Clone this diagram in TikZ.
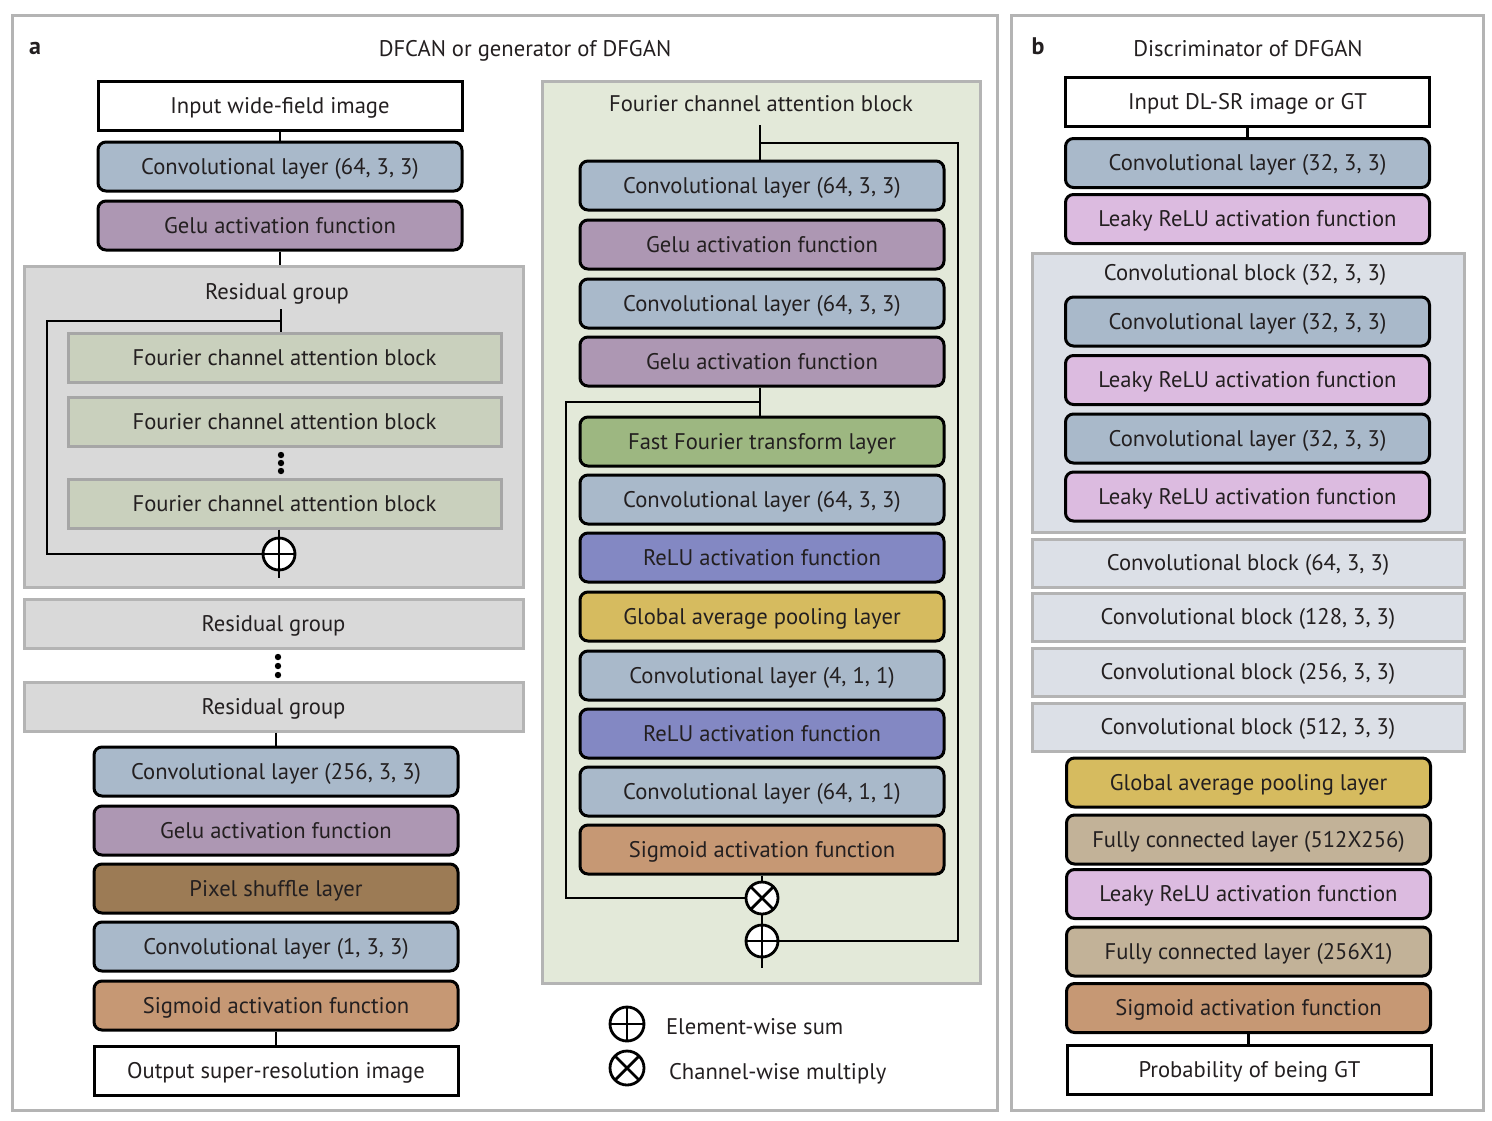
\documentclass[tikz,border=0pt]{standalone}
\usepackage{fontspec}
\setmainfont{PT Sans}
\usetikzlibrary{positioning}

\definecolor{txt}{HTML}{231F20}
\definecolor{frame}{HTML}{B4B4B4}
\definecolor{convc}{HTML}{A9B9CA}
\definecolor{geluc}{HTML}{AD97B3}
\definecolor{fcac}{HTML}{C9D0BD}
\definecolor{resc}{HTML}{D9D9D9}
\definecolor{shufc}{HTML}{9C7B55}
\definecolor{sigc}{HTML}{C69874}
\definecolor{fftc}{HTML}{9DB781}
\definecolor{reluc}{HTML}{8388C3}
\definecolor{gapc}{HTML}{D6BB5F}
\definecolor{fcabg}{HTML}{E3E9D9}
\definecolor{leakyc}{HTML}{DCBBE0}
\definecolor{blockc}{HTML}{DCE0E7}
\definecolor{fcc}{HTML}{C2B298}

\begin{document}
\begin{tikzpicture}[x=0.5pt,y=-0.5pt,font=\fontsize{11.3}{13}\selectfont,text=txt,
    every node/.style={text height=8.5pt,text depth=1pt},
    layer/.style={draw=black,line width=1.5pt,rounded corners=4pt,
        minimum width=182pt,minimum height=24.5pt,inner sep=0pt},
    io/.style={layer,rounded corners=0pt,fill=white},
    grp/.style={draw=frame,line width=1.5pt,inner sep=0pt},
    wire/.style={line width=1.4pt},
    sumop/.style={circle,draw,fill=white,line width=1.4pt,minimum size=16pt,inner sep=0pt,
        text height=,text depth=,
        path picture={\draw[line width=1.4pt] (path picture bounding box.north) -- (path picture bounding box.south)
            (path picture bounding box.west) -- (path picture bounding box.east);}},
    mulop/.style={circle,draw,fill=white,line width=1.4pt,minimum size=16pt,inner sep=0pt,
        text height=,text depth=,
        path picture={\draw[line width=1.4pt] (path picture bounding box.north west) -- (path picture bounding box.south east)
            (path picture bounding box.south west) -- (path picture bounding box.north east);}}]

    \useasboundingbox (0,0) rectangle (1492,1120);

    % The panels
    \draw[frame,line width=1.5pt] (12,15) rectangle (997,1110);
    \draw[frame,line width=1.5pt] (1011,15) rectangle (1483,1110);
    \node[font=\fontsize{12}{13}\bfseries] (taga) at (35,47) {a};
    \node (titlea) at (525,49) {DFCAN or generator of DFGAN};
    \node[font=\fontsize{12}{13}\bfseries] (tagb) at (1038,47) {b};
    \node (titleb) at (1248,49) {Discriminator of DFGAN};

    % Generator, top
    \node[io] (inwf) at (280,105.5) {Input wide-field image};
    \node[layer,fill=convc] (gconv1) at (280,166.5) {Convolutional layer (64, 3, 3)};
    \node[layer,fill=geluc] (ggelu1) at (280,225.5) {Gelu activation function};
    \draw[wire] (inwf.south) -- (gconv1.north);

    % Residual group with its skip
    \node[grp,fill=resc,minimum width=249.5pt,minimum height=160.5pt] (rg1) at (273.5,426.5) {};
    \node (rg1lab) at (277,292) {Residual group};
    \draw[wire] (ggelu1.south) -- (ggelu1.south |- rg1.north);
    \foreach \i/\y in {1/357.5,2/421.5,3/503.5}
        \node[grp,draw=black!35,fill=fcac,minimum width=216.5pt,minimum height=24.5pt] (fca\i) at (284.5,\y) {Fourier channel attention block};
    \foreach \y in {455,463,471}
        \fill (281,\y) circle[radius=1.6pt];
    \coordinate (rgin) at (281,309);
    \coordinate (rgskip) at (281,321);
    \node[sumop] (plus1) at (279,554) {};
    \coordinate (rgout) at (279,578);
    \draw[wire] (rgin) -- (fca1.north -| rgin);
    \draw[wire] (rgskip) -- (47,321) -- (47,554) -- (plus1.west);
    \draw[wire] (fca3.south -| plus1) -- (plus1.north);
    \draw[wire] (plus1.south) -- (rgout);

    % More residual groups
    \node[grp,fill=resc,minimum width=249.5pt,minimum height=24.5pt] (rg2) at (273.5,623.5) {Residual group};
    \foreach \y in {657,666,675}
        \fill (278,\y) circle[radius=1.6pt];
    \node[grp,fill=resc,minimum width=249.5pt,minimum height=24.5pt] (rg3) at (273.5,706.5) {Residual group};

    % Generator, bottom
    \node[layer,fill=convc] (gconv2) at (276,771.5) {Convolutional layer (256, 3, 3)};
    \node[layer,fill=geluc] (ggelu2) at (276,830.5) {Gelu activation function};
    \node[layer,fill=shufc] (gshuf) at (276,888.5) {Pixel shuffle layer};
    \node[layer,fill=convc] (gconv3) at (276,946.5) {Convolutional layer (1, 3, 3)};
    \node[layer,fill=sigc] (gsig) at (276,1005.5) {Sigmoid activation function};
    \node[io] (outsr) at (276,1070.5) {Output super-resolution image};
    \draw[wire] (rg3.south -| gconv2) -- (gconv2.north);
    \draw[wire] (gsig.south) -- (outsr.north);

    % Fourier channel attention block
    \node[grp,fill=fcabg,minimum width=219pt,minimum height=451pt] (fcab) at (761,532) {};
    \node (fcablab) at (761,104) {Fourier channel attention block};
    \node[layer,fill=convc] (fconv1) at (762,185.5) {Convolutional layer (64, 3, 3)};
    \node[layer,fill=geluc] (fgelu1) at (762,244.5) {Gelu activation function};
    \node[layer,fill=convc] (fconv2) at (762,303.5) {Convolutional layer (64, 3, 3)};
    \node[layer,fill=geluc] (fgelu2) at (762,361.5) {Gelu activation function};
    \node[layer,fill=fftc] (ffft) at (762,441.5) {Fast Fourier transform layer};
    \node[layer,fill=convc] (fconv3) at (762,499.5) {Convolutional layer (64, 3, 3)};
    \node[layer,fill=reluc] (frelu1) at (762,557.5) {ReLU activation function};
    \node[layer,fill=gapc] (fgap) at (762,616.5) {Global average pooling layer};
    \node[layer,fill=convc] (fconv4) at (762,675.5) {Convolutional layer (4, 1, 1)};
    \node[layer,fill=reluc] (frelu2) at (762,733.5) {ReLU activation function};
    \node[layer,fill=convc] (fconv5) at (762,791.5) {Convolutional layer (64, 1, 1)};
    \node[layer,fill=sigc] (fsig) at (762,849.5) {Sigmoid activation function};
    \node[mulop] (times1) at (762,898) {};
    \node[sumop] (plus2) at (762,941) {};
    \coordinate (fin) at (760,125);
    \coordinate (fskip) at (760,143);
    \coordinate (fsplit) at (760,402);
    \coordinate (fout) at (762,968);
    \draw[wire] (fin) -- (fconv1.north -| fin);
    \draw[wire] (fskip) -- (958,143) -- (958,941) -- (plus2.east);
    \draw[wire] (fgelu2.south -| fsplit) -- (ffft.north -| fsplit);
    \draw[wire] (fsplit) -- (566,402) -- (566,898) -- (times1.west);
    \draw[wire] (fsig.south -| times1) -- (times1.north);
    \draw[wire] (times1.south) -- (plus2.north);
    \draw[wire] (plus2.south) -- (fout);

    % Legend
    \node[sumop,minimum size=17pt] (keysum) at (627,1024) {};
    \node[anchor=west] (keysumlab) at (659,1027) {Element-wise sum};
    \node[mulop,minimum size=17pt] (keymul) at (627,1068) {};
    \node[anchor=west] (keymullab) at (662,1072) {Channel-wise multiply};

    % Discriminator
    \node[io] (indl) at (1247.5,102) {Input DL-SR image or GT};
    \node[layer,fill=convc] (dconv1) at (1247.5,163) {Convolutional layer (32, 3, 3)};
    \node[layer,fill=leakyc] (dleaky1) at (1247.5,219) {Leaky ReLU activation function};
    \draw[wire] (indl.south) -- (dconv1.north);
    \node[grp,fill=blockc,minimum width=216pt,minimum height=139.5pt] (dblk1) at (1248,392.5) {};
    \node (dblk1lab) at (1245,273) {Convolutional block (32, 3, 3)};
    \node[layer,fill=convc] (dconv2) at (1247.5,321.5) {Convolutional layer (32, 3, 3)};
    \node[layer,fill=leakyc] (dleaky2) at (1247.5,380) {Leaky ReLU activation function};
    \node[layer,fill=convc] (dconv3) at (1247.5,438.5) {Convolutional layer (32, 3, 3)};
    \node[layer,fill=leakyc] (dleaky3) at (1247.5,496.5) {Leaky ReLU activation function};
    \foreach \n/\y/\c in {2/563/64,3/617/128,4/672/256,5/727/512}
        \node[grp,fill=blockc,minimum width=216pt,minimum height=24pt] (dblk\n) at (1248,\y) {Convolutional block (\c, 3, 3)};
    \node[layer,fill=gapc] (dgap) at (1248.5,782.5) {Global average pooling layer};
    \node[layer,fill=fcc] (dfc1) at (1248.5,839.5) {Fully connected layer (512X256)};
    \node[layer,fill=leakyc] (dleaky4) at (1248.5,894) {Leaky ReLU activation function};
    \node[layer,fill=fcc] (dfc2) at (1248.5,951.5) {Fully connected layer (256X1)};
    \node[layer,fill=sigc] (dsig) at (1248.5,1008) {Sigmoid activation function};
    \node[io] (prob) at (1249.5,1070) {Probability of being GT};
    \draw[wire] (dsig.south) -- (dsig.south |- prob.north);
\end{tikzpicture}
\end{document}
